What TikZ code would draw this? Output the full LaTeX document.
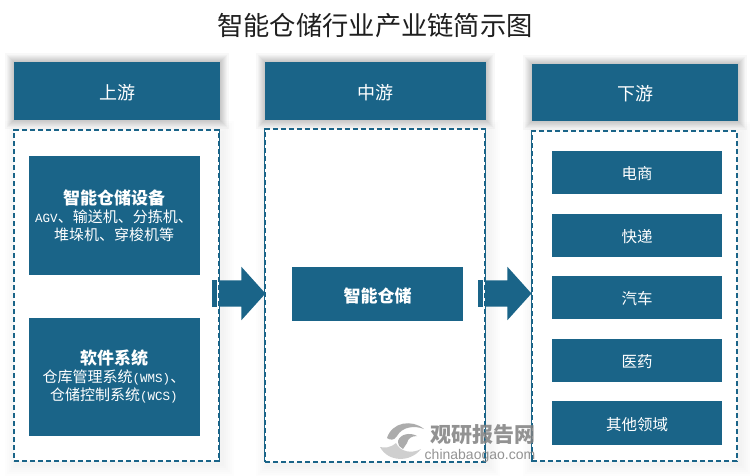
\documentclass[tikz,border=0pt]{standalone}
\usepackage{fontspec}
\setmainfont{Noto Sans CJK SC}
\newfontfamily\lat{Liberation Mono}
\newfontfamily\wmlat{Liberation Sans}
\usetikzlibrary{shapes.arrows,calc}
\definecolor{teal1}{HTML}{1A6488}
\tikzset{
  x=1pt,y=-1pt,
  headbox/.style={fill=teal1,text=white,inner sep=0pt,font=\fontsize{18}{20}\selectfont},
  itembox/.style={fill=teal1,text=white,inner sep=0pt,align=center,font=\fontsize{15.5}{19}\selectfont},
  boxtext/.style={text=white,align=center,inner sep=0pt,font=\fontsize{15}{18}\selectfont},
  dashbox/.style={draw=teal1,line width=1.1pt,dash pattern=on 5.4pt off 2.6pt},
  flowarrow/.style={single arrow,fill=teal1,inner sep=0pt,minimum width=53pt,minimum height=46pt,single arrow head extend=13.5pt,single arrow tip angle=96},
  wm/.style={text=black!50,font=\bfseries}
}
\newcommand{\dnshift}[1]{\raisebox{-1.5pt}[\height][\depth]{#1}}
\newcommand{\glow}[4]{%
  \foreach \d in {1,2,3,4,5,6,7,9}{\fill[black,opacity=0.028] (#1-\d,#2-\d) rectangle (#3+\d,#4+\d);}}
\newcommand{\faintglow}[4]{%
  \foreach \d in {2,4,6,8,10,12}{\fill[black,opacity=0.007] (#1-\d+3,#2-\d+3) rectangle (#3+\d+3,#4+\d+3);}}
\begin{document}
\begin{tikzpicture}
\useasboundingbox (0,0) rectangle (750,475);
\fill[white] (0,0) rectangle (750,475);

% soft shadows
\glow{14}{62}{220}{120}
\glow{265}{62}{486}{120}
\glow{532}{64}{738}{121}
\faintglow{14}{130}{219}{461}
\faintglow{265}{129}{485}{462}
\faintglow{532}{131}{737}{461}

\node[font=\fontsize{26.3}{30}\selectfont,text=black!88] (title) at (375,26) {智能仓储行业产业链简示图};

% columns
\node[headbox,minimum width=206pt,minimum height=58pt] (h1) at (117,91) {\dnshift{上游}};
\node[headbox,minimum width=221pt,minimum height=58pt] (h2) at (375.5,91) {\dnshift{中游}};
\node[headbox,minimum width=206pt,minimum height=57pt] (h3) at (635,92.5) {\dnshift{下游}};

\node[dashbox,fill=white,minimum width=205pt,minimum height=331pt,inner sep=0pt] (c1) at (116.5,295.5) {};
\node[dashbox,fill=white,minimum width=220pt,minimum height=333pt,inner sep=0pt] (c2) at (375,295.5) {};
\node[dashbox,fill=white,minimum width=205pt,minimum height=330pt,inner sep=0pt] (c3) at (634.5,296) {};

% left boxes
\node[itembox,minimum width=171pt,minimum height=119pt] (a1) at (114.5,215.5) {};
\node[boxtext] (a1t) at (114,216) {%
  {\fontsize{17}{18}\selectfont\bfseries 智能仓储设备}\\
  {\lat\fontsize{12.5}{18}\selectfont AGV}、输送机、分拣机、\\
  堆垛机、穿梭机等};
\node[itembox,minimum width=171pt,minimum height=118pt] (a2) at (114.5,377) {};
\node[boxtext] (a2t) at (114,376.5) {%
  {\fontsize{17}{18}\selectfont\bfseries 软件系统}\\
  仓库管理系统{\lat\fontsize{12.5}{18}\selectfont (WMS)}、\\
  仓储控制系统{\lat\fontsize{12.5}{18}\selectfont (WCS)}};

% middle box
\node[itembox,minimum width=171pt,minimum height=54pt,font=\fontsize{17}{20}\selectfont\bfseries] (m) at (377.5,294) {\dnshift{智能仓储}};

% right boxes
\node[itembox,minimum width=170pt,minimum height=43pt] (r1) at (637,172.5) {\dnshift{电商}};
\node[itembox,minimum width=170pt,minimum height=43pt] (r2) at (637,235.5) {\dnshift{快递}};
\node[itembox,minimum width=170pt,minimum height=43pt] (r3) at (637,297.5) {\dnshift{汽车}};
\node[itembox,minimum width=170pt,minimum height=43pt] (r4) at (637,360.5) {\dnshift{医药}};
\node[itembox,minimum width=170pt,minimum height=44pt] (r5) at (637,423) {\dnshift{其他领域}};

% flow arrows between columns
\node[flowarrow,text height=26pt] (ar1) at (236.5,293.5) {};
\node[fill=teal1,inner sep=0pt,minimum width=5pt,minimum height=27pt] (b1) at (214.5,293.5) {};
\node[flowarrow,text height=26pt] (ar2) at (502.5,293.5) {};
\node[fill=teal1,inner sep=0pt,minimum width=5pt,minimum height=27pt] (b2) at (480.5,293.5) {};
\draw[dashbox] (c1.north east) -- (c1.south east);
\draw[dashbox] (c2.north east) -- (c2.south east);
\draw[dashbox] (c2.north west) -- (c2.south west);
\draw[dashbox] (c3.north west) -- (c3.south west);

% watermark
\begin{scope}[opacity=.85]
\fill[black!38] (387,438) .. controls (392,422) and (412,419) .. (424,429) .. controls (414,425) and (402,427) .. (397,436) .. controls (394,441) and (390,440) .. (387,438) -- cycle;
\fill[black!22] (380,447) .. controls (388,462) and (410,463) .. (421,449) .. controls (412,454) and (400,452) .. (396,443) .. controls (390,448) and (385,448) .. (380,447) -- cycle;
\fill[black!38] (398,441) .. controls (400,434) and (410,432) .. (417,436) .. controls (412,436) and (408,438) .. (407,443) -- (403,449) .. controls (400,448) and (398,445) .. (398,441) -- cycle;
\node[wm,inner sep=0pt,font=\fontsize{21}{24}\selectfont\bfseries] (wm1) at (482.5,435) {观研报告网};
\node[text=black!50,inner sep=0pt,font=\fontsize{14}{16}\wmlat] (wm2) at (480,456) {chinabaogao.com};
\end{scope}
\end{tikzpicture}
\end{document}
